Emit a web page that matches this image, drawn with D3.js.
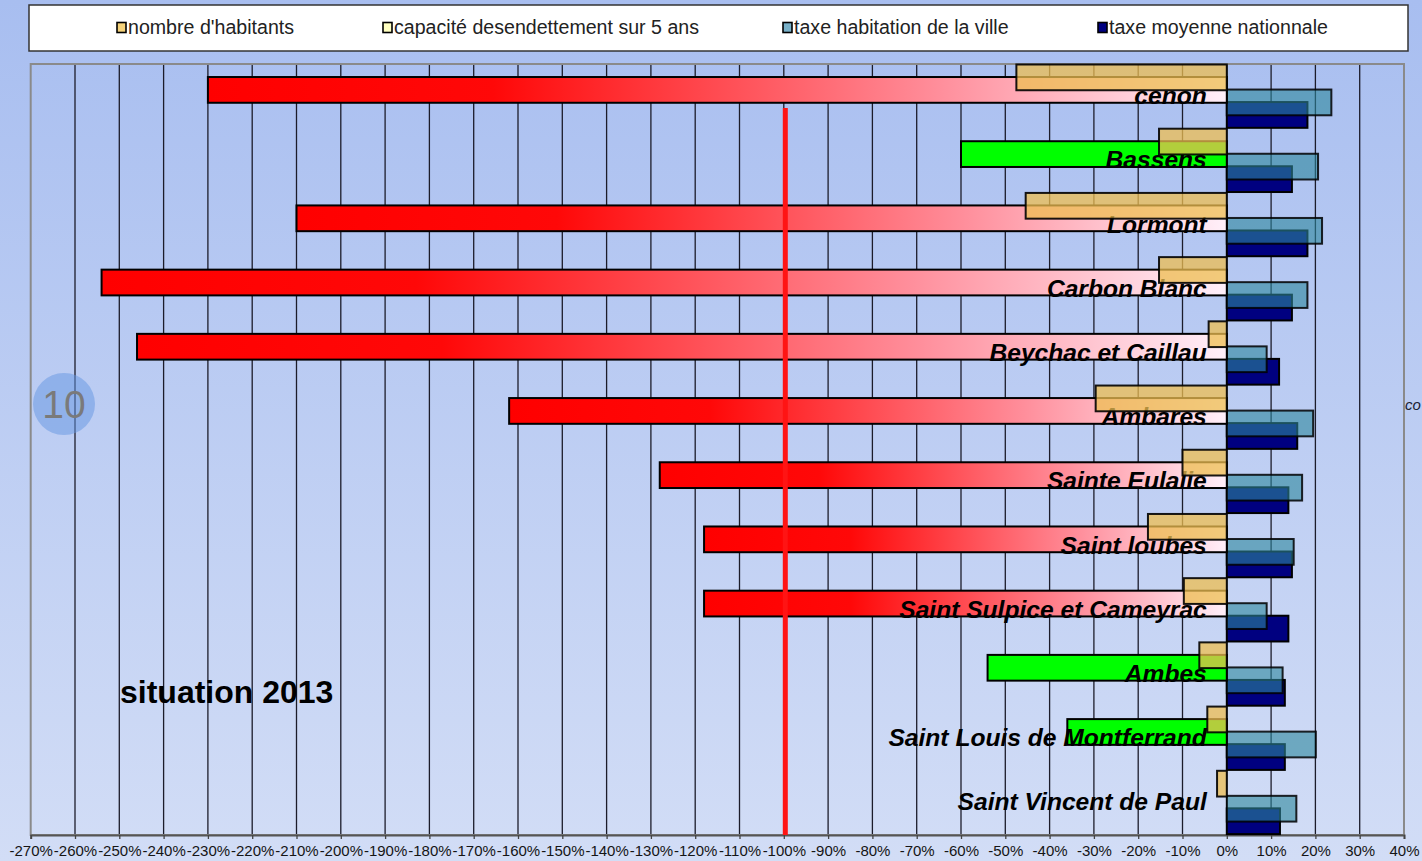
<!DOCTYPE html>
<html>
<head>
<meta charset="utf-8">
<script src="https://cdn.jsdelivr.net/npm/d3@7"></script>
<style>
  html, body { margin: 0; padding: 0; overflow: hidden; }
  body { width: 1422px; height: 861px; }
  svg { display: block; }
</style>
</head>
<body>
<svg id="chart" width="1422" height="861"></svg>
<script>
// ---------- DATA ----------
const communes = ["cenon", "Bassens", "Lormont", "Carbon Blanc", "Beychac et Caillau", "Ambares",
  "Sainte Eulalie", "Saint loubes", "Saint Sulpice et Cameyrac", "Ambes",
  "Saint Louis de Montferrand", "Saint Vincent de Paul"];
const seriesNames = ["nombre d'habitants", "capacité desendettement sur 5 ans",
  "taxe habitation de la ville", "taxe moyenne nationnale"];
const habitants   = [-47.5, -15.3, -45.4, -15.3, -4.1, -29.6, -10.0, -17.8, -9.7, -6.2, -4.4, -2.2];
const capacite    = [-230, -60, -210, -254, -246, -162, -128, -118, -118, -54, -36, 0];
const taxeVille   = [23.6, 20.6, 21.5, 18.2, 9.0, 19.5, 17.0, 15.1, 9.0, 12.6, 20.1, 15.7];
const taxeNation  = [18.2, 14.7, 18.2, 14.7, 11.8, 15.9, 13.9, 14.7, 13.9, 13.1, 13.1, 12.0];
const xTicks = d3.range(-270, 41, 10);
const seuil = -100;
const titre = "situation 2013";
const badge = "10";
const sideText = "co";

// ---------- LAYOUT ----------
const svg = d3.select("#chart");
const W = 1422, H = 861;
const plot = { left: 30.7, right: 1404, top: 64, bottom: 835 };

const defs = svg.append("defs");
const bg = defs.append("linearGradient").attr("id", "bg").attr("x1", 0).attr("y1", 0).attr("x2", 0).attr("y2", 1);
bg.append("stop").attr("offset", "0%").attr("stop-color", "#a8bef0");
bg.append("stop").attr("offset", "100%").attr("stop-color", "#d2ddf6");

const redGrad = defs.append("linearGradient").attr("id", "redGrad").attr("x1", 0).attr("y1", 0).attr("x2", 1).attr("y2", 0);
redGrad.append("stop").attr("offset", "0%").attr("stop-color", "#ff0000");
redGrad.append("stop").attr("offset", "28%").attr("stop-color", "#ff0808");
redGrad.append("stop").attr("offset", "72%").attr("stop-color", "#ff8f9c");
redGrad.append("stop").attr("offset", "100%").attr("stop-color", "#fff0fa");

svg.append("rect").attr("width", W).attr("height", H).attr("fill", "url(#bg)");

const x = d3.scaleLinear().domain([-270, 40]).range([plot.left, plot.right]);
const y = d3.scaleBand().domain(communes).range([plot.top + 0.5, plot.bottom]).padding(0);
const band = y.bandwidth();
const barH = band * 0.401;
const step = band * 0.195;

// gridlines
svg.append("g").selectAll("line").data(xTicks.filter(t => t > -270 && t < 40)).join("line")
  .attr("x1", d => x(d)).attr("x2", d => x(d))
  .attr("y1", plot.top).attr("y2", plot.bottom)
  .attr("stroke", "#1c1c2a").attr("stroke-width", 1.3);

// plot frame
svg.append("rect").attr("x", plot.left).attr("y", plot.top)
  .attr("width", plot.right - plot.left).attr("height", plot.bottom - plot.top)
  .attr("fill", "none").attr("stroke", "#8a8a8a").attr("stroke-width", 2);

// x axis
const xAxis = d3.axisBottom(x).tickValues(xTicks).tickFormat(d => d + "%").tickSize(4).tickPadding(6);
const gx = svg.append("g").attr("transform", `translate(0,${plot.bottom})`).call(xAxis);
gx.select(".domain").attr("stroke", "#555").attr("stroke-width", 2);
gx.selectAll(".tick line").attr("stroke", "#444").attr("stroke-width", 1.3);
gx.selectAll(".tick text").attr("font-family", "Liberation Sans, Arial, sans-serif")
  .attr("font-size", 15).attr("fill", "#151515");

const rows = communes.map((c, i) => ({ c, hab: habitants[i], cap: capacite[i], tv: taxeVille[i], tn: taxeNation[i] }));

function barX(v) { return Math.min(x(0), x(v)); }
function barW(v) { return Math.abs(x(v) - x(0)); }

// series 4: taxe moyenne nationnale (navy)
svg.append("g").selectAll("rect").data(rows).join("rect")
  .attr("x", d => barX(d.tn)).attr("y", d => y(d.c) + 3 * step).attr("width", d => barW(d.tn)).attr("height", barH)
  .attr("fill", "#000080").attr("stroke", "#000").attr("stroke-width", 2);

// series 3: taxe habitation de la ville (translucent light blue)
svg.append("g").selectAll("rect").data(rows).join("rect")
  .attr("x", d => barX(d.tv)).attr("y", d => y(d.c) + 2 * step).attr("width", d => barW(d.tv)).attr("height", barH)
  .attr("fill", "rgb(45,135,157)").attr("fill-opacity", 0.6).attr("stroke", "#000").attr("stroke-width", 2).attr("stroke-opacity", 0.85);

// series 2: capacité (red gradient / green)
svg.append("g").selectAll("rect").data(rows.filter(d => d.cap !== 0)).join("rect")
  .attr("x", d => barX(d.cap)).attr("y", d => y(d.c) + step).attr("width", d => barW(d.cap)).attr("height", barH)
  .attr("fill", d => d.cap < seuil ? "url(#redGrad)" : "#00ff00")
  .attr("stroke", "#000").attr("stroke-width", 2);

// category labels
svg.append("g").selectAll("text").data(rows).join("text")
  .attr("x", x(0) - 20).attr("y", d => y(d.c) + band / 2 + 7.5)
  .attr("text-anchor", "end")
  .attr("font-family", "Liberation Sans, Arial, sans-serif")
  .attr("font-weight", "bold").attr("font-style", "italic").attr("font-size", 24.6)
  .attr("fill", "#000")
  .text(d => d.c);

// series 1: nombre d'habitants (translucent tan)
svg.append("g").selectAll("rect").data(rows).join("rect")
  .attr("x", d => barX(d.hab)).attr("y", d => y(d.c)).attr("width", d => barW(d.hab)).attr("height", barH)
  .attr("fill", "rgb(238,190,80)").attr("fill-opacity", 0.75).attr("stroke", "#000").attr("stroke-width", 2).attr("stroke-opacity", 0.9);

// threshold line
svg.append("line").attr("x1", x(seuil) + 1.5).attr("x2", x(seuil) + 1.5)
  .attr("y1", 108).attr("y2", plot.bottom)
  .attr("stroke", "#ff1414").attr("stroke-width", 5);

// title text
svg.append("text").attr("x", 120).attr("y", 703)
  .attr("font-family", "Liberation Sans, Arial, sans-serif").attr("font-weight", "bold")
  .attr("font-size", 32).attr("fill", "#000").text(titre);

// badge
svg.append("circle").attr("cx", 64).attr("cy", 404).attr("r", 31)
  .attr("fill", "rgb(100,150,225)").attr("fill-opacity", 0.5);
svg.append("text").attr("x", 64).attr("y", 418).attr("text-anchor", "middle")
  .attr("font-family", "Liberation Sans, Arial, sans-serif").attr("font-size", 39)
  .attr("fill", "#7a7a7a").text(badge);

// side text
svg.append("text").attr("x", 1405).attr("y", 410)
  .attr("font-family", "Liberation Sans, Arial, sans-serif").attr("font-style", "italic")
  .attr("font-size", 15).attr("fill", "#1a2233").text(sideText);

// legend
svg.append("rect").attr("x", 29).attr("y", 5).attr("width", 1379).attr("height", 46)
  .attr("fill", "#fff").attr("stroke", "#333").attr("stroke-width", 1.5);
const legendX = [117, 383, 783, 1098];
const legendFill = ["#f5d27a", "#ffffc0", "#78b0c8", "#000080"];
const lg = svg.append("g").selectAll("g").data(seriesNames).join("g")
  .attr("transform", (d, i) => `translate(${legendX[i]},0)`);
lg.append("rect").attr("x", 0).attr("y", 22.5).attr("width", 9).attr("height", 10)
  .attr("fill", (d, i) => legendFill[i]).attr("stroke", "#000").attr("stroke-width", 1.6);
lg.append("text").attr("x", 11).attr("y", 34)
  .attr("font-family", "Liberation Sans, Arial, sans-serif").attr("font-size", 19.6)
  .attr("fill", "#222").text(d => d);
</script>
</body>
</html>
